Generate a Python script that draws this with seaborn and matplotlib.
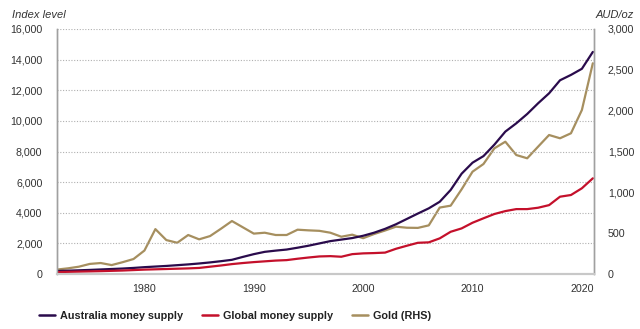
import matplotlib
matplotlib.use("Agg")
import matplotlib.pyplot as plt
import matplotlib.ticker as mticker
from matplotlib.lines import Line2D
import seaborn as sns
import pandas as pd

years = list(range(1972, 2022))
australia_money_supply = [200, 220, 245, 270, 300, 330, 360, 400, 450, 490,
                          530, 580, 630, 690, 760, 840, 930, 1120, 1300, 1450,
                          1530, 1600, 1720, 1850, 2000, 2150, 2250, 2350, 2500, 2700,
                          2950, 3250, 3600, 3950, 4290, 4720, 5490, 6550, 7270, 7700,
                          8450, 9300, 9840, 10450, 11150, 11800, 12650, 13000, 13400, 14500]
global_money_supply = [130, 145, 160, 175, 190, 210, 230, 260, 290, 310,
                       330, 350, 370, 400, 480, 560, 650, 720, 780, 830,
                       880, 910, 1000, 1080, 1150, 1170, 1130, 1300, 1350, 1370,
                       1400, 1650, 1850, 2040, 2070, 2330, 2760, 2980, 3350, 3640,
                       3920, 4110, 4240, 4240, 4330, 4500, 5050, 5160, 5600, 6250]
gold_aud = [55, 70, 90, 124, 135, 110, 145, 184, 288, 550,
            416, 383, 478, 425, 465, 555, 649, 572, 495, 506,
            478, 478, 543, 535, 529, 506, 457, 482, 439, 490,
            533, 580, 567, 565, 596, 814, 837, 1037, 1253, 1347,
            1539, 1620, 1457, 1417, 1560, 1702, 1662, 1723, 2008, 2580]
series_names = ["Australia money supply", "Global money supply", "Gold (RHS)"]
left_ticks = [0, 2000, 4000, 6000, 8000, 10000, 12000, 14000, 16000]
right_ticks = [0, 500, 1000, 1500, 2000, 2500, 3000]
x_ticks = [1980, 1990, 2000, 2010, 2020]

colors = {"Australia money supply": "#2a0b4c",
          "Global money supply": "#c4102b",
          "Gold (RHS)": "#a68f5f"}

sns.set_theme(style="white")
plt.rcParams['font.family'] = ['Liberation Sans', 'DejaVu Sans']

df_left = pd.DataFrame({
    "year": years * 2,
    "value": australia_money_supply + global_money_supply,
    "series": [series_names[0]] * len(years) + [series_names[1]] * len(years),
})
df_gold = pd.DataFrame({"year": years, "value": gold_aud})

fig = plt.figure(figsize=(6.4, 3.29), dpi=100)
ax = fig.add_axes([0.089, 0.167, 0.839, 0.745])
ax2 = ax.twinx()

lw = 1.6
sns.lineplot(data=df_left, x="year", y="value", hue="series",
             palette=colors, linewidth=lw, ax=ax, legend=False)
sns.lineplot(data=df_gold, x="year", y="value", color=colors["Gold (RHS)"],
             linewidth=lw, ax=ax2, legend=False)

ax.set_zorder(ax2.get_zorder() + 1)
ax.patch.set_visible(False)

ax.set_xlim(1972, 2021.1)
ax.set_ylim(0, 16000)
ax2.set_ylim(0, 3000)
ax.set_yticks(left_ticks)
ax2.set_yticks(right_ticks)
ax.set_xticks(x_ticks)
fmt = mticker.FuncFormatter(lambda v, p: f"{int(v):,}")
ax.yaxis.set_major_formatter(fmt)
ax2.yaxis.set_major_formatter(fmt)

ax.grid(axis="y", color="#b0b0b0", linestyle=(0, (1, 1.5)), linewidth=0.8)
ax.set_xlabel("")
ax.set_ylabel("")
ax2.set_xlabel("")
ax2.set_ylabel("")

for a in (ax, ax2):
    a.spines["top"].set_visible(False)
    a.spines["left"].set_color("#a0a0a0")
    a.spines["right"].set_color("#a0a0a0")
    a.spines["bottom"].set_color("#c8c8c8")
    a.spines["bottom"].set_linewidth(1.5)
    a.spines["left"].set_linewidth(1.0)
    a.spines["right"].set_linewidth(1.0)

tick_fs = 7.7
ax.tick_params(axis="y", length=0, labelsize=tick_fs, labelcolor="#333333", pad=10.5)
ax2.tick_params(axis="y", length=0, labelsize=tick_fs, labelcolor="#333333", pad=10)
ax.tick_params(axis="x", length=6, width=1, color="#c5d3e6", direction="out",
               labelsize=tick_fs, labelcolor="#333333", pad=1)

fig.text(0.019, 0.955, "Index level", fontsize=8, style="italic",
         color="#333333", ha="left", va="center")
fig.text(0.99, 0.955, "AUD/oz", fontsize=8, style="italic",
         color="#333333", ha="right", va="center")

handles = [Line2D([0], [0], color=colors[n], linewidth=1.8) for n in series_names]
leg = fig.legend(handles, series_names, loc="center left",
                 bbox_to_anchor=(0.0615, 0.040), ncol=3, frameon=False,
                 prop={"weight": "bold", "size": 7.85}, handlelength=1.45,
                 handletextpad=0.45, columnspacing=1.75, borderpad=0,
                 borderaxespad=0)
for t in leg.get_texts():
    t.set_color("#222222")

fig.savefig("out.png", dpi=100)
